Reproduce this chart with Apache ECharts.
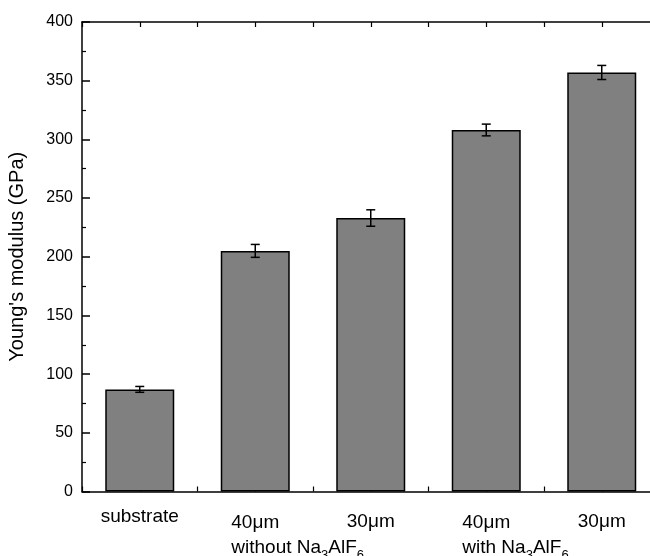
<!DOCTYPE html>
<html>
<head>
<meta charset="utf-8">
<script src="https://cdn.jsdelivr.net/npm/echarts@6/dist/echarts.min.js"></script>
<style>
  html, body { margin: 0; padding: 0; background: #fff; }
  #chart { width: 650px; height: 556px; }
</style>
</head>
<body>
<div id="chart"></div>
<script>
// bar labels and the group line that sits under some of them
const categories = ['substrate', '40μm', '30μm', '40μm', '30μm'];
const groupLabels = ['', 'without Na_3AlF_6', '', 'with Na_3AlF_6', ''];
// Young's modulus (GPa) and error bars
const modulus = [87, 205, 233, 308, 357];
const errors = [2.5, 5.5, 7, 5, 6];
const yTicks = { min: 0, max: 400, step: 50 };

const FONT = '"Liberation Sans", Arial, sans-serif';
const LABEL_SIZE = 19, SUB_SIZE = 13;
const chart = echarts.init(document.getElementById('chart'));

const ctx = document.createElement('canvas').getContext('2d');
function textW(str, size) {
    ctx.font = size + 'px ' + FONT;
    return ctx.measureText(str).width;
}

// "Na_3AlF_6" -> pieces, subscripts marked
function splitSub(s) {
    return s.split(/(_\d)/).filter(p => p).map(p =>
        p[0] === '_' ? { sub: true, t: p.slice(1) } : { sub: false, t: p });
}
function richGroup(s) {
    return splitSub(s).map(p => (p.sub ? '{s|' : '{b|') + p.t + '}').join('');
}
function groupWidth(s) {
    return splitSub(s).reduce((w, p) => w + textW(p.t, p.sub ? SUB_SIZE : LABEL_SIZE), 0);
}

const catData = categories.map((c, i) => {
    if (i === 0) return c;
    if (!groupLabels[i]) return { value: c, textStyle: { padding: [5, 0, 0, 0] } };
    // second line starts under the left edge of the first line
    const pad = groupWidth(groupLabels[i]) - textW(c, LABEL_SIZE);
    return { value: c, textStyle: { padding: [5, 0, 0, pad] } };
});

const option = {
    animation: false,
    backgroundColor: '#fff',
    grid: { left: 82, top: 22, width: 577.5, bottom: 64.5, outerBoundsMode: 'none' },
    xAxis: [
        {
            type: 'category',
            data: catData,
            position: 'bottom',
            axisLine: { lineStyle: { color: '#000', width: 1.5 } },
            axisTick: { show: false },
            axisLabel: {
                interval: 0,
                margin: 13,
                color: '#000',
                fontFamily: FONT,
                fontSize: LABEL_SIZE,
                lineHeight: 24,
                formatter: (v, i) => {
                    if (!groupLabels[i]) return v;
                    return '{a|' + v + '}\n' + richGroup(groupLabels[i]);
                },
                rich: {
                    a: { fontSize: LABEL_SIZE, fontFamily: FONT, color: '#000', align: 'left', lineHeight: 26 },
                    b: { fontSize: LABEL_SIZE, fontFamily: FONT, color: '#000', align: 'left', lineHeight: 25 },
                    s: { fontSize: SUB_SIZE, fontFamily: FONT, color: '#000', align: 'left', lineHeight: 13, padding: [15, 0, 0, 0] }
                }
            }
        },
        {
            // tick marks at bar centres and band edges, bottom
            type: 'value',
            position: 'bottom',
            min: 0, max: categories.length, interval: 0.5,
            axisLine: { show: false },
            axisTick: { inside: true, length: 5, lineStyle: { color: '#000', width: 1.2 } },
            axisLabel: { show: false },
            splitLine: { show: false }
        },
        {
            type: 'value',
            position: 'top',
            min: 0, max: categories.length, interval: 0.5,
            axisLine: { show: true, lineStyle: { color: '#000', width: 1.5 } },
            axisTick: { inside: true, length: 5, lineStyle: { color: '#000', width: 1.2 } },
            axisLabel: { show: false },
            splitLine: { show: false }
        }
    ],
    yAxis: {
        type: 'value',
        min: yTicks.min, max: yTicks.max, interval: yTicks.step,
        name: "Young's modulus (GPa)",
        nameLocation: 'middle',
        nameRotate: 90,
        nameGap: 55,
        nameTextStyle: { color: '#000', fontFamily: FONT, fontSize: 20 },
        axisLine: { show: true, lineStyle: { color: '#000', width: 1.5 } },
        axisTick: { inside: true, length: 8, lineStyle: { color: '#000', width: 1.5 } },
        minorTick: { show: true, splitNumber: 2, length: 4, lineStyle: { color: '#000', width: 1.2 } },
        axisLabel: { color: '#000', fontFamily: FONT, fontSize: 16, margin: 9 },
        splitLine: { show: false }
    },
    series: [
        {
            type: 'bar',
            data: modulus,
            barWidth: 69,
            itemStyle: { color: '#808080', borderColor: '#000', borderWidth: 1.5 }
        },
        {
            type: 'custom',
            z: 5,
            data: modulus.map((v, i) => [i, v, errors[i]]),
            encode: { x: 0, y: 1 },
            renderItem: (params, api) => {
                const i = api.value(0), v = api.value(1), e = api.value(2);
                const hi = api.coord([i, v + e]);
                const lo = api.coord([i, v - e]);
                const cap = 4.5;
                const st = { stroke: '#000', lineWidth: 1.5 };
                return {
                    type: 'group',
                    children: [
                        { type: 'line', shape: { x1: hi[0], y1: hi[1], x2: lo[0], y2: lo[1] }, style: st },
                        { type: 'line', shape: { x1: hi[0] - cap, y1: hi[1], x2: hi[0] + cap, y2: hi[1] }, style: st },
                        { type: 'line', shape: { x1: lo[0] - cap, y1: lo[1], x2: lo[0] + cap, y2: lo[1] }, style: st }
                    ]
                };
            }
        }
    ]
};

chart.setOption(option);
</script>
</body>
</html>
